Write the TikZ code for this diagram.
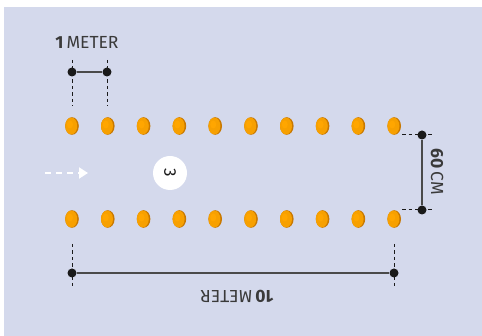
\documentclass[tikz,border=0pt]{standalone}
\usepackage{fontspec}
\setmainfont{Fira Sans}
\usetikzlibrary{arrows.meta}
\definecolor{bg}{HTML}{D4D9EC}
\definecolor{cone}{HTML}{F7A000}
\definecolor{conedark}{HTML}{C87800}
\definecolor{dimline}{HTML}{4A4A4A}
\definecolor{dotc}{HTML}{1A1A1A}
\definecolor{txt}{HTML}{3A3A3A}
\tikzset{
  px/.style={x=1pt,y=-1pt},
  dimdot/.style={circle,fill=dotc,inner sep=0pt,minimum size=9pt},
  dimln/.style={draw=dimline,line width=1.2pt},
  ext/.style={draw=dotc,line width=1pt,dash pattern=on 3.5pt off 3pt},
  lbl/.style={text=txt,font=\fontsize{17.5}{17.5}\selectfont,inner sep=0pt},
}
\newcommand{\conemark}[2]{%
  \fill[conedark] (#1,#2) ellipse [x radius=6.8pt,y radius=8.8pt];
  \fill[cone] (#1-0.8,#2) ellipse [x radius=6.0pt,y radius=8.4pt];
  \fill[orange!70!yellow] (#1-2,#2-1.5) ellipse [x radius=3pt,y radius=4pt];
}
\begin{document}
\begin{tikzpicture}[px]
\useasboundingbox (0,0) rectangle (482,336);
\fill[white] (0,0) rectangle (482,336);
\fill[bg] (4,7) rectangle (482,336);
% cones
\foreach \x in {72,107.8,143.6,179.4,215.2,251,286.8,322.6,358.4,394.2}{
  \conemark{\x}{126}
  \conemark{\x}{219}
}
% 1 meter
\node[dimdot] (a1) at (72,72) {};
\node[dimdot] (a2) at (107,72) {};
\coordinate (a1t) at (72,60); \coordinate (a1b) at (72,106);
\coordinate (a2t) at (107,60); \coordinate (a2b) at (107,106);
\draw[ext] (a1t) -- (a1b);
\draw[ext] (a2t) -- (a2b);
\draw[dimln] (a1) -- (a2);
\node[lbl] (t1) at (87,42) {\textbf{1}\,METER};
% 60 cm
\node[dimdot] (b1) at (422,135) {};
\node[dimdot] (b2) at (422,210) {};
\coordinate (b1l) at (402,135); \coordinate (b1r) at (432,135);
\coordinate (b2l) at (402,210); \coordinate (b2r) at (432,210);
\draw[ext] (b1l) -- (b1r);
\draw[ext] (b2l) -- (b2r);
\draw[dimln] (b1) -- (b2);
\node[lbl,rotate=-90] (t2) at (437,172) {\textbf{60}\,CM};
% 10 meter
\node[dimdot] (c1) at (72,273) {};
\node[dimdot] (c2) at (394,273) {};
\coordinate (c1t) at (72,244); \coordinate (c1b) at (72,288);
\coordinate (c2t) at (394,244); \coordinate (c2b) at (394,288);
\draw[ext] (c1t) -- (c1b);
\draw[ext] (c2t) -- (c2b);
\draw[dimln] (c1) -- (c2);
\node[lbl,rotate=180] (t3) at (237,296) {\textbf{10}\,METER};
% arrow
\coordinate (ar1) at (45,173);
\coordinate (ar2) at (88,173);
\draw[white,line width=2pt,dash pattern=on 6pt off 5pt,-{Triangle[length=9pt,width=11pt]}] (ar1) -- (ar2);
% circle 3
\node[circle,fill=white,minimum size=34pt,inner sep=0pt] (n3) at (170,173) {};
\node[rotate=-90,font=\fontsize{17}{17}\selectfont,text=dotc] (n3t) at (n3) {3};
\end{tikzpicture}
\end{document}
